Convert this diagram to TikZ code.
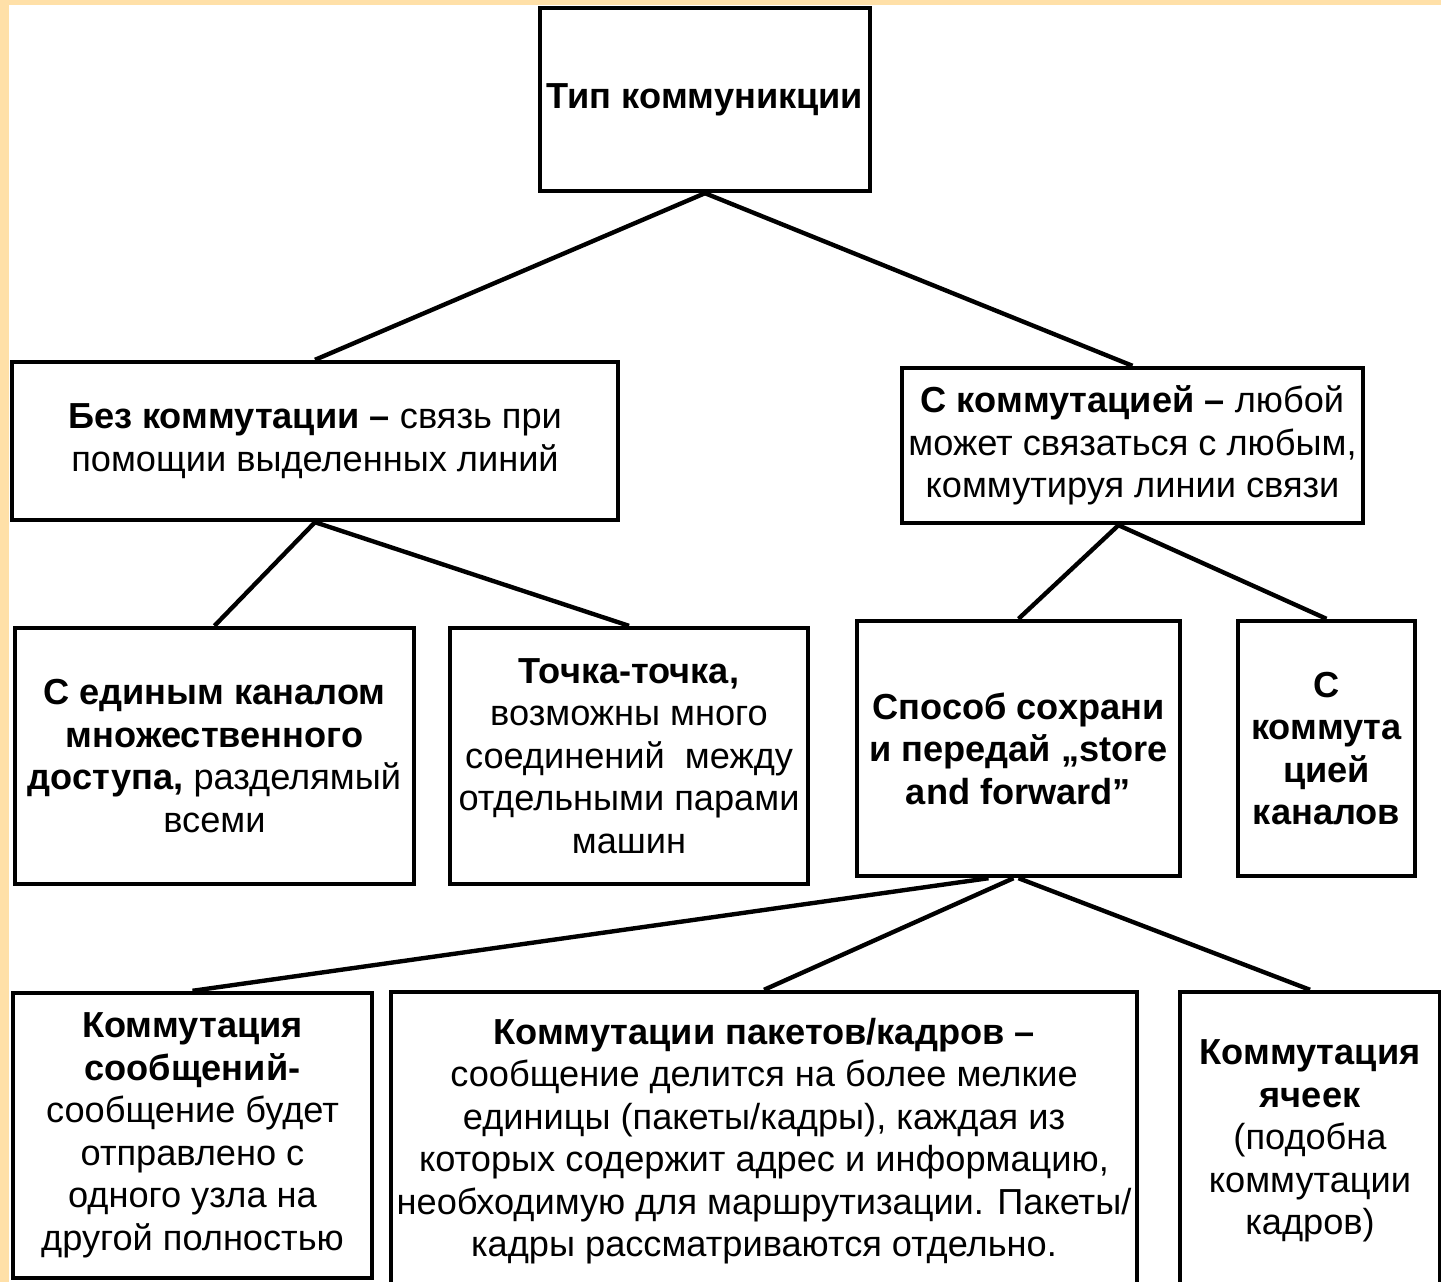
\documentclass[tikz,border=0pt]{standalone}
\usepackage{fontspec}
\setmainfont{Liberation Sans}
\usepackage{xcolor}
\usetikzlibrary{positioning}

\definecolor{slidebg}{HTML}{FFE0A8}

\begin{document}
\begin{tikzpicture}[
  x=0.02cm, y=-0.02cm,
  font=\fontsize{20.6}{24.2}\selectfont,
  box/.style 2 args={draw, line width=2.5pt, align=center, inner sep=0pt,
    minimum width=#1*0.02cm, minimum height=#2*0.02cm},
  link/.style={line width=2.5pt}
]
  \useasboundingbox (0,0) rectangle (1441,1282);
  % slide background strips
  \fill[slidebg] (0,0) rectangle (1441,5);
  \fill[slidebg] (0,0) rectangle (9,1282);

  \node[box={330}{183}] (root) at (705,99.5) {\textbf{Тип коммуникции}};

  \node[box={606}{158}] (nosw) at (315,441) {\textbf{Без коммутации –} связь при\\помощии выделенных линий};
  \node[box={461}{155}] (sw) at (1132.5,445.5) {\textbf{С коммутацией –} любой\\может связаться с любым,\\коммутируя линии связи};

  \node[box={399}{256}] (shared) at (214.5,756) {\textbf{С единым каналом}\\\textbf{множественного}\\\textbf{доступа,} разделямый\\всеми};
  \node[box={358}{256}] (p2p) at (629,756) {\textbf{Точка-точка,}\\возможны много\\соединений\ \ между\\отдельными парами\\машин};
  \node[box={323}{255}] (store) at (1018.5,748.5) {\textbf{Способ сохрани}\\\textbf{и передай „store}\\\textbf{and forward”}};
  \node[box={177}{255}] (circuit) at (1326.5,748.5) {\textbf{С}\\\textbf{коммута}\\\textbf{цией}\\\textbf{каналов}};

  \node[box={359}{285}] (msg) at (192.5,1135.5) {\textbf{Коммутация}\\\textbf{сообщений-}\\сообщение будет\\отправлено с\\одного узла на\\другой полностью};
  \node[box={746}{298}] (pkt) at (764,1141) {\textbf{Коммутации пакетов/кадров –}\\сообщение делится на более мелкие\\единицы (пакеты/кадры), каждая из\\которых содержит адрес и информацию,\\необходимую для маршрутизации. Пакеты/\\кадры рассматриваются отдельно.};
  \node[box={260}{298}] (cell) at (1310,1141) {\textbf{Коммутация}\\\textbf{ячеек}\\(подобна\\коммутации\\кадров)};

  \draw[link] (root.south) -- (nosw.north);
  \draw[link] (root.south) -- (sw.north);
  \draw[link] (nosw.south) -- (shared.north);
  \draw[link] (nosw.south) -- (p2p.north);
  \draw[link] ([xshift=-0.28cm]sw.south) -- (store.north);
  \draw[link] ([xshift=-0.28cm]sw.south) -- (circuit.north);
  \draw[link] ([xshift=-0.6cm]store.south) -- (msg.north);
  \draw[link] ([xshift=-0.1cm]store.south) -- (pkt.north);
  \draw[link] (store.south) -- (cell.north);
\end{tikzpicture}
\end{document}
